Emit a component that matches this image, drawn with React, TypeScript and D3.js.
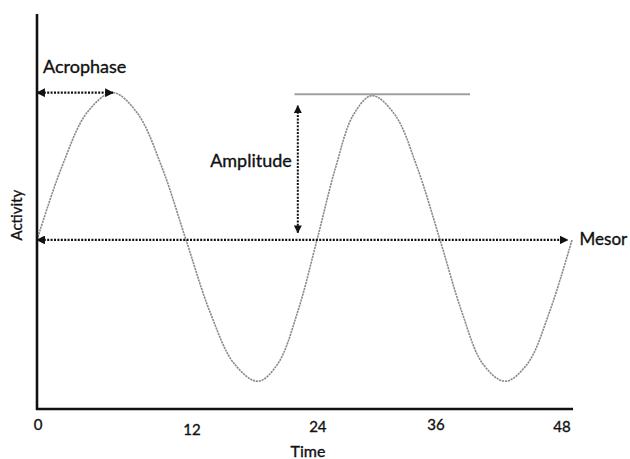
import * as d3 from 'd3';

// activity curve (time in hours, activity relative to mesor)
const TIMES = [0, 2.27, 4.55, 6.82, 9.0, 11.2, 13.37, 15.5, 17.7, 19.83, 21.6, 23.4, 25.12, 26.8, 28.4, 30.06, 32.1, 34.1, 36.16, 38.1, 40.0, 41.99, 44.0, 46.0, 48];
const ACTIVITY = [0, 0.51, 0.88, 1.01, 0.87, 0.5, 0, -0.49, -0.85, -0.97, -0.85, -0.49, 0, 0.5, 0.86, 0.99, 0.86, 0.5, 0, -0.49, -0.85, -0.97, -0.85, -0.49, 0];

const TICK_LABELS = ['0', '12', '24', '36', '48'];
// where the labels actually sit in the drawing (hours)
const TICK_AT = [0.1, 13.9, 25.2, 35.8, 47.1];
const TICK_DY = [0, 5, 2, 0, 2];

const MESOR = 0;
const ACROPHASE = 6.82;
const PEAK = 1.01;
const AMP_AT = 23.4;
const AMP_RANGE = [0.05, 0.92];
const PEAK_LINE = [23.1, 38.85];
const PEAK_LEVEL = 1.0;
const MESOR_END = 47.6;

const W = 630;
const H = 459;
const FONT = 'Lato, "Open Sans", sans-serif';

export default function App() {
  const x = d3.scaleLinear().domain([0, 48]).range([37, 572]);
  const y = d3.scaleLinear().domain([-1.16, 1.55]).range([409, 14]);

  const data = TIMES.map((t, i) => ({ t, a: ACTIVITY[i] }));
  const line = d3.line<{ t: number; a: number }>()
    .x(d => x(d.t))
    .y(d => y(d.a))
    .curve(d3.curveCatmullRom.alpha(0.5));

  const dots = '2 1.4';

  return (
    <svg width={W} height={H} style={{ position: 'absolute', left: 0, top: 0, background: '#fff' }}>
      <defs>
        <marker id="arr" viewBox="0 0 10 10" refX="9" refY="5" markerWidth="4" markerHeight="4" orient="auto-start-reverse" markerUnits="strokeWidth">
          <path d="M0,0 L10,5 L0,10 z" fill="#111" />
        </marker>
      </defs>

      {/* curve */}
      <path d={line(data) ?? ''} fill="none" stroke="#8a8a8a" strokeWidth={1.6} strokeDasharray="2.2 0.8" />

      {/* peak reference line */}
      <line x1={x(PEAK_LINE[0])} x2={x(PEAK_LINE[1])} y1={y(PEAK_LEVEL)} y2={y(PEAK_LEVEL)} stroke="#a0a0a0" strokeWidth={2} />

      {/* mesor */}
      <line x1={x(0)} x2={x(MESOR_END)} y1={y(MESOR)} y2={y(MESOR)} stroke="#111" strokeWidth={2.2} strokeDasharray={dots}
        markerStart="url(#arr)" markerEnd="url(#arr)" />

      {/* acrophase */}
      <line x1={x(0)} x2={x(ACROPHASE)} y1={y(PEAK)} y2={y(PEAK)} stroke="#111" strokeWidth={2.2} strokeDasharray={dots}
        markerStart="url(#arr)" markerEnd="url(#arr)" />

      {/* amplitude */}
      <line x1={x(AMP_AT)} x2={x(AMP_AT)} y1={y(AMP_RANGE[0])} y2={y(AMP_RANGE[1])} stroke="#111" strokeWidth={2} strokeDasharray={dots}
        markerStart="url(#arr)" markerEnd="url(#arr)" />

      {/* axes */}
      <line x1={x(0)} x2={x(0)} y1={y(1.55)} y2={y(-1.16) + 1} stroke="#111" strokeWidth={2.6} />
      <line x1={x(0) - 1} x2={x(48) + 1} y1={y(-1.16)} y2={y(-1.16)} stroke="#111" strokeWidth={2.6} />

      <g fontFamily={FONT} fill="#111" stroke="#111" strokeWidth={0.35}>
        {TICK_LABELS.map((l, i) => (
          <text key={l} x={x(TICK_AT[i])} y={y(-1.16) + 21 + TICK_DY[i]} fontSize={15} textAnchor="middle">{l}</text>
        ))}
        <text x={308} y={y(-1.16) + 48} fontSize={16} textAnchor="middle">Time</text>
        <text transform={`translate(22,${y(0.17)}) rotate(-90)`} fontSize={15} textAnchor="middle">Activity</text>
        <text x={x(0) + 6} y={73} fontSize={18}>Acrophase</text>
        <text x={x(AMP_AT) - 6} y={167} fontSize={18} textAnchor="end">Amplitude</text>
        <text x={x(MESOR_END) + 12} y={245} fontSize={17}>Mesor</text>
      </g>
    </svg>
  );
}
